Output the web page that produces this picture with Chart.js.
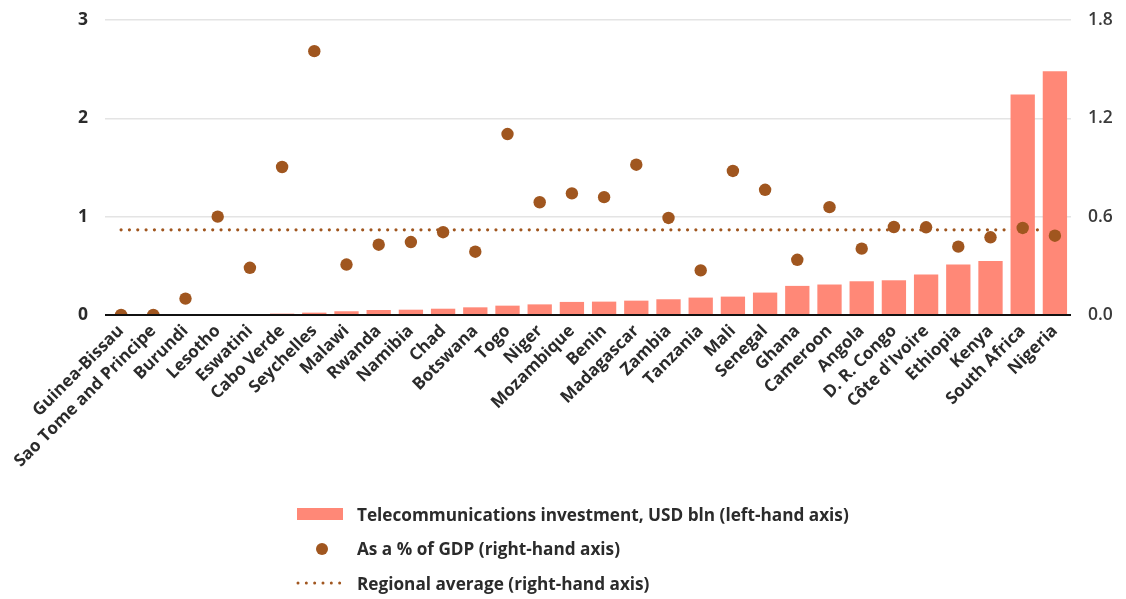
<!DOCTYPE html>
<html>
<head>
<meta charset="utf-8">
<script src="https://cdn.jsdelivr.net/npm/chart.js@4.4.1/dist/chart.umd.min.js"></script>
<style>
  html, body { margin: 0; padding: 0; background: #fff; }
  #wrap { position: relative; width: 1126px; height: 599px; }
  #legend { position: absolute; left: 296px; top: 497px; font-family: "Open Sans", sans-serif; font-weight: 700; font-size: 17.2px; color: #2b2b2b; }
  #legend .item { display: flex; align-items: center; height: 34.5px; }
  #legend canvas { width: 48px; height: 20px; margin-right: 13px; }
</style>
</head>
<body>
<div id="wrap">
  <canvas id="chart" width="1126" height="599"></canvas>
  <div id="legend"></div>
</div>
<script>
// Countries, ordered by telecom investment
const countries = [
  "Guinea-Bissau", "Sao Tome and Principe", "Burundi", "Lesotho", "Eswatini",
  "Cabo Verde", "Seychelles", "Malawi", "Rwanda", "Namibia", "Chad", "Botswana",
  "Togo", "Niger", "Mozambique", "Benin", "Madagascar", "Zambia", "Tanzania",
  "Mali", "Senegal", "Ghana", "Cameroon", "Angola", "D. R. Congo",
  "Côte d'Ivoire", "Ethiopia", "Kenya", "South Africa", "Nigeria"
];

// Telecommunications investment, USD bln (left axis)
const investmentUsdBln = [
  0, 0, 0, 0.01, 0.008, 0.014, 0.024, 0.038, 0.051, 0.054, 0.064, 0.078,
  0.095, 0.108, 0.133, 0.136, 0.146, 0.16, 0.177, 0.187, 0.228, 0.296,
  0.31, 0.343, 0.353, 0.412, 0.514, 0.548, 2.243, 2.478
];

// Investment as a share of GDP, % (right axis)
const shareOfGdp = [
  0, 0, 0.1, 0.6, 0.288, 0.903, 1.61, 0.308, 0.429, 0.445, 0.505, 0.386,
  1.104, 0.688, 0.742, 0.719, 0.917, 0.592, 0.272, 0.879, 0.764, 0.337,
  0.658, 0.405, 0.537, 0.535, 0.417, 0.474, 0.531, 0.484
];

// Regional average share of GDP, % (right axis)
const regionalAverage = 0.52;

const leftTicks = [0, 1, 2, 3];
const rightTicks = [0, 0.6, 1.2, 1.8];

const seriesNames = [
  "Telecommunications investment, USD bln (left-hand axis)",
  "As a % of GDP (right-hand axis)",
  "Regional average (right-hand axis)"
];

const BAR = "#ff8877";
const BROWN = "#a0561f";
const FONT = "'Open Sans', sans-serif";

const averageLine = [
  { x: countries[0], y: regionalAverage },
  { x: countries[countries.length - 1], y: regionalAverage }
];

// keep the plot top fixed regardless of tick label padding
const fixVerticalPadding = (s) => { s.paddingTop = 20; s.paddingBottom = 0; };

const chart = new Chart(document.getElementById("chart"), {
  data: {
    labels: countries,
    datasets: [
      {
        type: "bar",
        label: seriesNames[0],
        data: investmentUsdBln,
        yAxisID: "yLeft",
        backgroundColor: BAR,
        barPercentage: 0.755,
        categoryPercentage: 1,
        order: 1
      },
      {
        type: "line",
        label: seriesNames[1],
        data: shareOfGdp,
        yAxisID: "yRight",
        showLine: false,
        pointRadius: 6.2,
        pointHoverRadius: 6.2,
        pointBackgroundColor: BROWN,
        pointBorderWidth: 0,
        order: 0
      },
      {
        type: "line",
        label: seriesNames[2],
        data: averageLine,
        yAxisID: "yRight",
        borderColor: BROWN,
        borderWidth: 3.2,
        borderDash: [0, 8.33],
        borderCapStyle: "round",
        pointRadius: 0,
        fill: false,
        order: 2
      }
    ]
  },
  options: {
    responsive: false,
    animation: false,
    events: [],
    layout: { padding: 0 },
    plugins: {
      legend: { display: false },
      tooltip: { enabled: false }
    },
    scales: {
      x: {
        type: "category",
        grid: { display: false, drawTicks: false },
        border: { display: false },
        ticks: {
          autoSkip: false,
          maxRotation: 45,
          minRotation: 45,
          padding: 6,
          color: "#2b2b2b",
          font: { family: FONT, size: 17, weight: "700" }
        },
        afterFit: (s) => { s.height = 284; }
      },
      yLeft: {
        position: "left",
        min: 0,
        max: 3,
        afterBuildTicks: (s) => { s.ticks = leftTicks.map(v => ({ value: v })); },
        grid: {
          drawTicks: false,
          lineWidth: 1.6,
          color: "#e4e4e4"
        },
        border: { display: false },
        ticks: {
          padding: 17,
          color: "#2b2b2b",
          font: { family: FONT, size: 17.5, weight: "700" },
          callback: (v) => String(v)
        },
        afterFit: (s) => { s.width = 105; fixVerticalPadding(s); }
      },
      yRight: {
        position: "right",
        min: 0,
        max: 1.8,
        afterBuildTicks: (s) => { s.ticks = rightTicks.map(v => ({ value: v })); },
        grid: { display: false, drawTicks: false },
        border: { display: false },
        ticks: {
          padding: 17,
          color: "#3a3a3a",
          font: { family: FONT, size: 17.5, weight: "600" },
          callback: (v) => Number(v).toFixed(1)
        },
        afterFit: (s) => { s.width = 55; fixVerticalPadding(s); }
      }
    }
  },
  plugins: [{
    id: "zeroLine",
    afterDatasetsDraw(c) {
      // solid baseline at zero on top of bars
      const y = c.scales.yLeft.getPixelForValue(0);
      const ctx = c.ctx;
      ctx.save();
      ctx.strokeStyle = "#111";
      ctx.lineWidth = 2;
      ctx.beginPath();
      ctx.moveTo(c.chartArea.left, y);
      ctx.lineTo(c.chartArea.right, y);
      ctx.stroke();
      ctx.restore();
    }
  }]
});

// Legend built from the chart's datasets, one entry per row
const legendEl = document.getElementById("legend");
chart.data.datasets.forEach((ds) => {
  const row = document.createElement("div");
  row.className = "item";
  const sw = document.createElement("canvas");
  sw.width = 48; sw.height = 20;
  const g = sw.getContext("2d");
  if (ds.type === "bar") {
    g.fillStyle = BAR;
    g.fillRect(1, 4, 46, 12);
  } else if (ds.showLine === false) {
    g.fillStyle = BROWN;
    g.beginPath();
    g.arc(26, 10, 6, 0, Math.PI * 2);
    g.fill();
  } else {
    g.strokeStyle = BROWN;
    g.lineWidth = 3;
    g.lineCap = "round";
    g.setLineDash([0, 8.33]);
    g.beginPath();
    g.moveTo(2, 10);
    g.lineTo(47, 10);
    g.stroke();
  }
  const txt = document.createElement("span");
  txt.textContent = ds.label;
  row.appendChild(sw);
  row.appendChild(txt);
  legendEl.appendChild(row);
});
</script>
</body>
</html>
